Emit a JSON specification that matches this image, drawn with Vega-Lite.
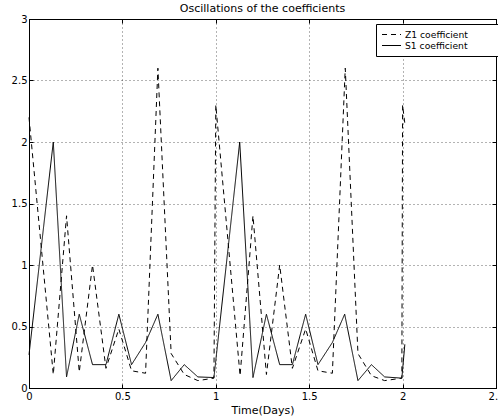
{
  "$schema": "https://vega.github.io/schema/vega-lite/v6.json",
  "width": 467,
  "height": 369,
  "autosize": {"type": "none"},
  "padding": {"left": 29, "top": 19, "right": 2, "bottom": 30},
  "background": "white",
  "title": {"text": "Oscillations of the coefficients", "font": "DejaVu Sans", "fontSize": 11, "fontWeight": "normal", "color": "black", "anchor": "middle", "offset": 4, "dy": 4},
  "config": {
    "view": {"stroke": "black", "strokeWidth": 1},
    "axis": {"labelFont": "DejaVu Sans", "titleFont": "DejaVu Sans", "labelColor": "black", "titleColor": "black", "domainColor": "black", "tickColor": "black", "labelFontSize": 10, "titleFontSize": 11, "titleFontWeight": "normal"}
  },
  "data": {"values": [
    {"t": 0, "v": 2.2, "s": "Z1 coefficient"},
    {"t": 0.13, "v": 0.11, "s": "Z1 coefficient"},
    {"t": 0.201, "v": 1.4, "s": "Z1 coefficient"},
    {"t": 0.269, "v": 0.13, "s": "Z1 coefficient"},
    {"t": 0.34, "v": 1.0, "s": "Z1 coefficient"},
    {"t": 0.412, "v": 0.16, "s": "Z1 coefficient"},
    {"t": 0.481, "v": 0.48, "s": "Z1 coefficient"},
    {"t": 0.549, "v": 0.14, "s": "Z1 coefficient"},
    {"t": 0.624, "v": 0.12, "s": "Z1 coefficient"},
    {"t": 0.69, "v": 2.6, "s": "Z1 coefficient"},
    {"t": 0.761, "v": 0.28, "s": "Z1 coefficient"},
    {"t": 0.831, "v": 0.11, "s": "Z1 coefficient"},
    {"t": 0.904, "v": 0.06, "s": "Z1 coefficient"},
    {"t": 0.99, "v": 0.08, "s": "Z1 coefficient"},
    {"t": 1.0, "v": 2.3, "s": "Z1 coefficient"},
    {"t": 1.13, "v": 0.1, "s": "Z1 coefficient"},
    {"t": 1.199, "v": 1.4, "s": "Z1 coefficient"},
    {"t": 1.271, "v": 0.11, "s": "Z1 coefficient"},
    {"t": 1.342, "v": 1.0, "s": "Z1 coefficient"},
    {"t": 1.41, "v": 0.16, "s": "Z1 coefficient"},
    {"t": 1.481, "v": 0.48, "s": "Z1 coefficient"},
    {"t": 1.547, "v": 0.14, "s": "Z1 coefficient"},
    {"t": 1.624, "v": 0.12, "s": "Z1 coefficient"},
    {"t": 1.693, "v": 2.6, "s": "Z1 coefficient"},
    {"t": 1.761, "v": 0.28, "s": "Z1 coefficient"},
    {"t": 1.833, "v": 0.1, "s": "Z1 coefficient"},
    {"t": 1.904, "v": 0.06, "s": "Z1 coefficient"},
    {"t": 1.996, "v": 0.08, "s": "Z1 coefficient"},
    {"t": 2.0, "v": 2.3, "s": "Z1 coefficient"},
    {"t": 2.012, "v": 2.15, "s": "Z1 coefficient"},
    {"t": 0, "v": 0.27, "s": "S1 coefficient"},
    {"t": 0.13, "v": 2.0, "s": "S1 coefficient"},
    {"t": 0.201, "v": 0.09, "s": "S1 coefficient"},
    {"t": 0.269, "v": 0.6, "s": "S1 coefficient"},
    {"t": 0.34, "v": 0.19, "s": "S1 coefficient"},
    {"t": 0.412, "v": 0.19, "s": "S1 coefficient"},
    {"t": 0.481, "v": 0.6, "s": "S1 coefficient"},
    {"t": 0.549, "v": 0.19, "s": "S1 coefficient"},
    {"t": 0.624, "v": 0.37, "s": "S1 coefficient"},
    {"t": 0.69, "v": 0.6, "s": "S1 coefficient"},
    {"t": 0.761, "v": 0.06, "s": "S1 coefficient"},
    {"t": 0.831, "v": 0.19, "s": "S1 coefficient"},
    {"t": 0.904, "v": 0.09, "s": "S1 coefficient"},
    {"t": 0.99, "v": 0.085, "s": "S1 coefficient"},
    {"t": 1.128, "v": 2.0, "s": "S1 coefficient"},
    {"t": 1.199, "v": 0.085, "s": "S1 coefficient"},
    {"t": 1.271, "v": 0.6, "s": "S1 coefficient"},
    {"t": 1.342, "v": 0.19, "s": "S1 coefficient"},
    {"t": 1.41, "v": 0.19, "s": "S1 coefficient"},
    {"t": 1.481, "v": 0.6, "s": "S1 coefficient"},
    {"t": 1.547, "v": 0.19, "s": "S1 coefficient"},
    {"t": 1.624, "v": 0.37, "s": "S1 coefficient"},
    {"t": 1.69, "v": 0.6, "s": "S1 coefficient"},
    {"t": 1.761, "v": 0.06, "s": "S1 coefficient"},
    {"t": 1.833, "v": 0.19, "s": "S1 coefficient"},
    {"t": 1.904, "v": 0.09, "s": "S1 coefficient"},
    {"t": 1.996, "v": 0.08, "s": "S1 coefficient"},
    {"t": 2.012, "v": 0.355, "s": "S1 coefficient"}
  ]},
  "layer": [
    {
      "mark": {"type": "line", "color": "black", "strokeWidth": 1},
      "encoding": {
        "x": {"field": "t", "type": "quantitative", "scale": {"domain": [0, 2.5], "nice": false, "zero": false},
              "axis": {"title": "Time(Days)", "values": [0, 0.5, 1, 1.5, 2, 2.5], "format": "~g", "tickSize": -4, "labelPadding": 7, "titlePadding": 3, "grid": true, "gridColor": "black", "gridDash": [1, 3], "gridOpacity": 0.6, "labelFlush": false}},
        "y": {"field": "v", "type": "quantitative", "scale": {"domain": [0, 3], "nice": false, "zero": false},
              "axis": {"title": null, "values": [0, 0.5, 1, 1.5, 2, 2.5, 3], "format": "~g", "tickSize": -4, "labelPadding": 6, "grid": true, "gridColor": "black", "gridDash": [1, 3], "gridOpacity": 0.6}},
        "strokeDash": {"field": "s", "type": "nominal",
                       "scale": {"domain": ["Z1 coefficient", "S1 coefficient"], "range": [[5, 4], [1, 0]]},
                       "legend": {"title": null, "orient": "none", "legendX": 347, "legendY": 5, "strokeColor": "black", "fillColor": "white", "padding": 5, "symbolType": "M-2,0H2", "symbolSize": 90, "symbolStrokeColor": "black", "symbolFillColor": "transparent", "symbolStrokeWidth": 1, "symbolOffset": 5, "labelFont": "DejaVu Sans", "labelFontSize": 9.2, "labelColor": "black", "rowPadding": 0, "labelOffset": 8, "labelExpr": "datum.label + '\u2800\u2800\u2800\u2800'"}},
        "detail": {"field": "s", "type": "nominal"}
      }
    },
    {
      "mark": {"type": "line", "opacity": 0},
      "encoding": {
        "x": {"field": "t", "type": "quantitative", "scale": {"domain": [0, 2.5], "nice": false, "zero": false},
              "axis": {"orient": "top", "title": null, "labels": false, "values": [0, 0.5, 1, 1.5, 2, 2.5], "tickSize": -4, "grid": false}},
        "y": {"field": "v", "type": "quantitative", "scale": {"domain": [0, 3], "nice": false, "zero": false},
              "axis": {"orient": "right", "title": null, "labels": false, "values": [0, 0.5, 1, 1.5, 2, 2.5, 3], "tickSize": -4, "grid": false}}
      }
    }
  ],
  "resolve": {"scale": {"x": "independent", "y": "independent"}}
}
